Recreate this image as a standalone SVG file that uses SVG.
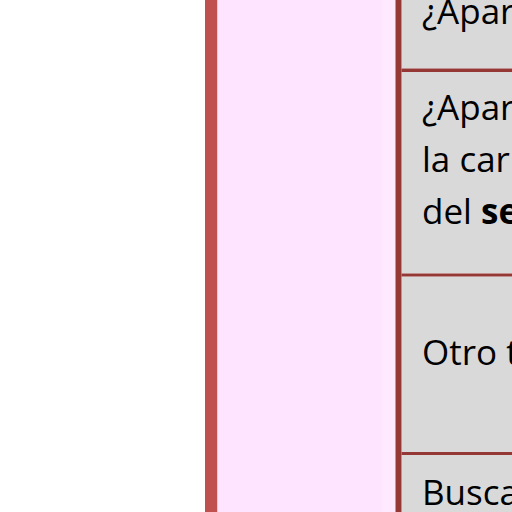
<svg xmlns="http://www.w3.org/2000/svg" width="512" height="512" viewBox="0 0 512 512">
  <style>
    .cell { fill: #d9d9d9; }
    .div { fill: #953735; }
    .t { font-family: "Open Sans", "Noto Sans", "Liberation Sans", sans-serif; font-size: 35px; fill: #000000; }
    .b { font-weight: bold; }
  </style>
  <rect x="0" y="0" width="512" height="512" fill="#ffffff"/>
  <g id="left-panel">
    <rect x="205" y="0" width="12.5" height="512" fill="#c0504d"/>
    <rect x="217.5" y="0" width="178" height="512" fill="#ffe4ff"/>
    <rect x="382" y="0" width="13.5" height="512" fill="#ffe9ff"/>
  </g>
  <g id="cell-1">
    <rect class="cell" x="401.5" y="0" width="110.5" height="68.5"/>
    <text class="t" x="422" y="24">¿Apar</text>
  </g>
  <g id="cell-2">
    <rect class="cell" x="401.5" y="72" width="110.5" height="201.5"/>
    <text class="t" x="422" y="120">¿Apar</text>
    <text class="t" x="422" y="172">la car</text>
    <text class="t" x="422" y="224">del <tspan class="b">se</tspan></text>
  </g>
  <g id="cell-3">
    <rect class="cell" x="401.5" y="276.5" width="110.5" height="175.5"/>
    <text class="t" x="422" y="365">Otro t</text>
  </g>
  <g id="cell-4">
    <rect class="cell" x="401.5" y="455" width="110.5" height="57"/>
    <text class="t" x="422" y="505">Busca</text>
  </g>
  <g id="connectors">
    <rect class="div" x="395.5" y="0" width="6" height="512"/>
    <rect class="div" x="401.5" y="68.5" width="110.5" height="3.5"/>
    <rect class="div" x="401.5" y="273.5" width="110.5" height="3"/>
    <rect class="div" x="401.5" y="452" width="110.5" height="3"/>
  </g>
</svg>
